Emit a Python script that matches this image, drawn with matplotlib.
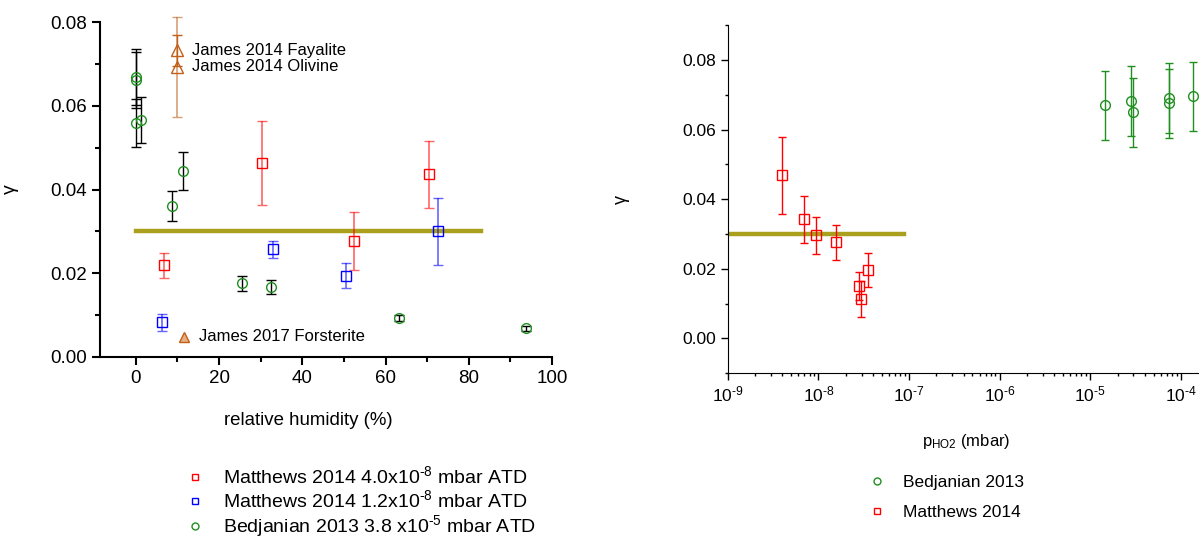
import numpy as np
import matplotlib
matplotlib.use("Agg")
import matplotlib.pyplot as plt
from matplotlib.lines import Line2D
from matplotlib.ticker import MultipleLocator, LogLocator, NullFormatter, FormatStrFormatter, FuncFormatter

plt.rcParams['font.family'] = ['Liberation Sans', 'DejaVu Sans']
plt.rcParams['mathtext.fontset'] = 'custom'
plt.rcParams['mathtext.rm'] = 'Liberation Sans'
plt.rcParams['mathtext.it'] = 'Liberation Sans:italic'
plt.rcParams['mathtext.bf'] = 'Liberation Sans:bold'

# ---- left panel data (relative humidity) ----
bed_rh = [0.0, 0.0, 0.0, 1.2, 8.6, 11.3, 25.6, 32.5, 63.2, 93.7]
bed_g = [0.0669, 0.0662, 0.0559, 0.0567, 0.0360, 0.0445, 0.0176, 0.0167, 0.0093, 0.0069]
bed_e = [0.0067, 0.0067, 0.0057, 0.0055, 0.0036, 0.0045, 0.0018, 0.0017, 0.0007, 0.0006]

m40_rh = [6.8, 30.4, 52.5, 70.4]
m40_g = [0.0219, 0.0464, 0.0277, 0.0436]
m40_e = [0.0030, 0.0100, 0.0070, 0.0080]

m12_rh = [6.4, 33.0, 50.6, 72.6]
m12_g = [0.0083, 0.0257, 0.0194, 0.0300]
m12_e = [0.0020, 0.0020, 0.0030, 0.0080]

james_rh = [10.0, 10.0]
james_g = [0.0733, 0.0693]
james_e = [0.0037, 0.0120]
james_lbl = ["James 2014 Fayalite", "James 2014 Olivine"]
fors_rh = [11.7]
fors_g = [0.0048]

ref_rh = [0, 83]
ref_g = [0.030, 0.030]

# ---- right panel data (p_HO2) ----
mp_p = [3.95e-9, 6.9e-9, 9.35e-9, 1.56e-8, 2.8e-8, 2.94e-8, 3.5e-8]
mp_g = [0.0469, 0.0342, 0.0296, 0.0276, 0.0150, 0.0112, 0.0196]
mp_e = [0.0110, 0.0068, 0.0053, 0.0050, 0.0040, 0.0052, 0.0049]

bp_p = [1.45e-5, 2.8e-5, 3.0e-5, 7.4e-5, 7.4e-5, 1.35e-4]
bp_g = [0.0670, 0.0682, 0.0650, 0.0691, 0.0676, 0.0696]
bp_e = [0.0100, 0.0100, 0.0100, 0.0100, 0.0100, 0.0100]

ref_p = [1e-9, 8.8e-8]

RED = '#ff0000'
BLUE = '#0000ff'
GREEN = '#1f8f1f'
ORANGE = '#c0601a'
OLIVE = '#aaa01e'
HY = '\u2010'  # short hyphen like the original

fig = plt.figure(figsize=(11.99, 5.40), dpi=100)

# ================= left =================
ax = fig.add_axes([0.0834, 0.339, 0.377, 0.620])
ax.plot(ref_rh, ref_g, color=OLIVE, lw=3.2, zorder=1)
ax.errorbar(bed_rh, bed_g, yerr=bed_e, fmt='none', ecolor='black', elinewidth=1, capsize=3.5, zorder=2)
ax.plot(bed_rh, bed_g, 'o', mfc='none', mec=GREEN, ms=7, mew=1, zorder=3)
ax.errorbar(m40_rh, m40_g, yerr=m40_e, fmt='s', mfc='none', mec=RED, ms=6.5, mew=1,
            ecolor=(1, 0, 0, 0.6), elinewidth=1.2, capsize=3.5, zorder=3)
ax.errorbar(m12_rh, m12_g, yerr=m12_e, fmt='s', mfc='none', mec=BLUE, ms=6.5, mew=1,
            ecolor=(0, 0, 1, 0.6), elinewidth=1.2, capsize=3.5, zorder=3)
e1 = ax.errorbar(james_rh[0], james_g[0], yerr=james_e[0], fmt='^', mfc='none', mec=ORANGE, ms=8, mew=1,
                 ecolor=ORANGE, elinewidth=1, capsize=3.5, zorder=3)
e2 = ax.errorbar(james_rh[1], james_g[1], yerr=james_e[1], fmt='^', mfc='none', mec=ORANGE, ms=8, mew=1,
                 ecolor=(0.75, 0.38, 0.1, 0.6), elinewidth=1.2, capsize=3.5, zorder=3)
for e in (e1, e2):
    for art in e.get_children():
        art.set_clip_on(False)
ax.plot(fors_rh, fors_g, '^', mfc='#e8b080', mec=ORANGE, ms=7, mew=1, zorder=3)
for xr, yr, lb in zip(james_rh, james_g, james_lbl):
    ax.text(xr + 3.6, yr, lb, fontsize=12, va='center', ha='left')
ax.text(fors_rh[0] + 3.4, fors_g[0], "James 2017 Forsterite", fontsize=12, va='center', ha='left')

ax.set_xlim(-8.6, 100)
ax.set_ylim(0, 0.08)
ax.xaxis.set_major_locator(MultipleLocator(20))
ax.xaxis.set_minor_locator(MultipleLocator(10))
ax.yaxis.set_major_locator(MultipleLocator(0.02))
ax.yaxis.set_minor_locator(MultipleLocator(0.01))
ax.yaxis.set_major_formatter(FormatStrFormatter('%.2f'))
for s in ['top', 'right']:
    ax.spines[s].set_visible(False)
for s in ['left', 'bottom']:
    ax.spines[s].set_linewidth(1.5)
ax.tick_params(which='major', direction='out', length=6, width=1.5, labelsize=13.5)
ax.tick_params(which='minor', direction='out', length=3.5, width=1.5)
ax.set_xlabel("relative humidity (%)", fontsize=13.4)
ax.set_ylabel("γ", fontsize=14)
ax.xaxis.set_label_coords(0.46, -0.163)
ax.yaxis.set_label_coords(-0.18, 0.5)

hl = [Line2D([], [], ls='none', marker='s', mfc='none', mec=RED, ms=5, mew=1),
      Line2D([], [], ls='none', marker='s', mfc='none', mec=BLUE, ms=5, mew=1),
      Line2D([], [], ls='none', marker='o', mfc='none', mec=GREEN, ms=5, mew=1)]
ll = ["Matthews 2014 4.0x10$^{" + HY + "8}$ mbar ATD",
      "Matthews 2014 1.2x10$^{" + HY + "8}$ mbar ATD",
      "Bedjanian 2013 3.8 x10$^{" + HY + "5}$ mbar ATD"]
fig.legend(hl, ll, loc='upper left', bbox_to_anchor=(0.148, 0.152), frameon=False,
           fontsize=14, handlelength=1.0, handletextpad=0.94, labelspacing=0.1,
           borderaxespad=0)

# ================= right =================
ax2 = fig.add_axes([0.607, 0.309, 0.393, 0.644])
ax2.plot(ref_p, ref_g, color=OLIVE, lw=3.2, zorder=1)
ax2.errorbar(mp_p, mp_g, yerr=mp_e, fmt='s', mfc='none', mec=RED, ms=6.5, mew=1,
             ecolor=RED, elinewidth=1, capsize=3, zorder=3)
ax2.errorbar(bp_p, bp_g, yerr=bp_e, fmt='o', mfc='none', mec=GREEN, ms=7, mew=1,
             ecolor=GREEN, elinewidth=1, capsize=3, zorder=3)
ax2.set_xscale('log')
ax2.set_xlim(1e-9, 10 ** -3.8)
ax2.set_ylim(-0.01, 0.09)
ax2.yaxis.set_major_locator(MultipleLocator(0.02))
ax2.yaxis.set_minor_locator(MultipleLocator(0.01))
ax2.yaxis.set_major_formatter(FormatStrFormatter('%.2f'))
ax2.xaxis.set_major_locator(LogLocator(base=10, numticks=20))
ax2.xaxis.set_minor_locator(LogLocator(base=10, subs=np.arange(2, 10), numticks=20))
ax2.xaxis.set_major_formatter(FuncFormatter(
    lambda v, pos: "10$^{" + HY + "%d}$" % int(round(-np.log10(v)))))
ax2.xaxis.set_minor_formatter(NullFormatter())
for s in ['top', 'right']:
    ax2.spines[s].set_visible(False)
ax2.tick_params(which='major', direction='out', length=5, width=1, labelsize=12.5)
ax2.tick_params(which='minor', direction='out', length=2.5, width=1)
ax2.set_xlabel("p$_{\\mathregular{HO2}}$ (mbar)", fontsize=12)
ax2.set_ylabel("γ", fontsize=13)
ax2.xaxis.set_label_coords(0.505, -0.168)
ax2.yaxis.set_label_coords(-0.208, 0.5)

hr = [Line2D([], [], ls='none', marker='o', mfc='none', mec=GREEN, ms=5, mew=1),
      Line2D([], [], ls='none', marker='s', mfc='none', mec=RED, ms=5, mew=1)]
lr = ["Bedjanian 2013", "Matthews 2014"]
fig.legend(hr, lr, loc='upper left', bbox_to_anchor=(0.7183, 0.133), frameon=False,
           fontsize=12.5, handlelength=1.0, handletextpad=1.0, labelspacing=0.85,
           borderaxespad=0)

fig.savefig("out.png", dpi=100)
